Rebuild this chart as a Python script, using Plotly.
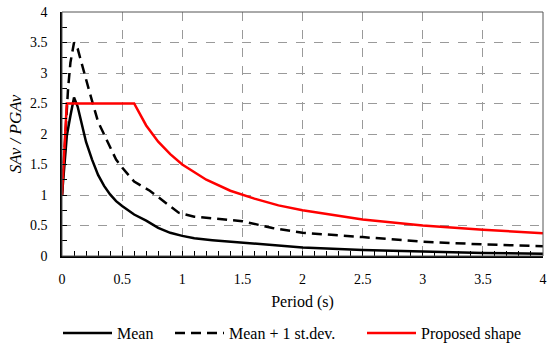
import plotly.graph_objects as go

# ---- data ----
period_mean = [0, 0.02, 0.04, 0.07, 0.1, 0.13, 0.16, 0.2, 0.25, 0.3, 0.35, 0.4, 0.45, 0.5, 0.6,
               0.7, 0.8, 0.9, 1.0, 1.1, 1.25, 1.5, 2.0, 2.5, 3.0, 3.5, 4.0]
mean_vals = [1.0, 1.5, 1.97, 2.3, 2.6, 2.45, 2.22, 1.87, 1.58, 1.33, 1.15, 1.01, 0.9, 0.82, 0.68,
             0.58, 0.46, 0.38, 0.33, 0.29, 0.26, 0.22, 0.14, 0.1, 0.07, 0.05, 0.035]

period_sd = [0, 0.02, 0.04, 0.05, 0.07, 0.1, 0.13, 0.16, 0.2, 0.23, 0.3, 0.37, 0.45, 0.5,
             0.6, 0.73, 0.84, 0.97, 1.1, 1.25, 1.5, 1.75, 2.0, 2.5, 3.0, 3.5, 4.0]
sd_vals = [1.0, 1.7, 2.35, 2.73, 3.17, 3.5, 3.4, 3.17, 2.9, 2.68, 2.2, 1.91, 1.58, 1.45,
           1.22, 1.07, 0.9, 0.71, 0.645, 0.615, 0.57, 0.46, 0.38, 0.31, 0.235, 0.19, 0.16]

period_prop = [0, 0.04, 0.6, 0.7, 0.8, 0.9, 1.0, 1.2, 1.4, 1.6, 1.8, 2.0, 2.5, 3.0, 3.5, 4.0]
prop_vals = [1.0, 2.5, 2.5, 2.14, 1.875, 1.67, 1.5, 1.25, 1.07, 0.94, 0.83, 0.75, 0.6, 0.5, 0.43, 0.375]

series_names = ["Mean", "Mean + 1 st.dev.", "Proposed shape"]
x_ticks = [0, 0.5, 1, 1.5, 2, 2.5, 3, 3.5, 4]
x_tick_labels = ["0", "0.5", "1", "1.5", "2", "2.5", "3", "3.5", "4"]
y_ticks = [0, 0.5, 1, 1.5, 2, 2.5, 3, 3.5, 4]
y_tick_labels = ["0", "0.5", "1", "1.5", "2", "2.5", "3", "3.5", "4"]

FONT = "'Liberation Serif', 'Times New Roman', Times, serif"

fig = go.Figure()
fig.add_trace(go.Scatter(x=period_mean, y=mean_vals, mode="lines", name=series_names[0],
                         line=dict(color="black", width=2.5), legend="legend"))
fig.add_trace(go.Scatter(x=period_sd, y=sd_vals, mode="lines", name=series_names[1],
                         line=dict(color="black", width=2.5, dash="10px,6px"), legend="legend2"))
fig.add_trace(go.Scatter(x=period_prop, y=prop_vals, mode="lines", name=series_names[2],
                         line=dict(color="#ff0000", width=2.5), legend="legend3"))

W_PLOT = 481.0
H_PLOT = 244.0
def lx(px):
    return (px - 62) / W_PLOT
ly = (256 - 333) / H_PLOT

leg_common = dict(orientation="h", yanchor="middle", y=ly, xanchor="left",
                  font=dict(family=FONT, size=16, color="black"),
                  bgcolor="rgba(0,0,0,0)", itemwidth=49, tracegroupgap=0)

fig.update_layout(
    width=550, height=346,
    margin=dict(l=62, r=7, t=12, b=90, autoexpand=False),
    paper_bgcolor="white", plot_bgcolor="white",
    font=dict(family=FONT, size=14, color="black"),
    showlegend=True,
    legend=dict(x=lx(58), **leg_common),
    legend2=dict(x=lx(170), **leg_common),
    legend3=dict(x=lx(362), **leg_common),
    xaxis=dict(range=[0, 4], tickvals=x_ticks, ticktext=x_tick_labels,
               showline=True, linecolor="black", linewidth=1.5, automargin=False,
               showgrid=True, gridcolor="#9a9a9a", griddash="dash", gridwidth=1,
               ticks="inside", ticklen=5, tickcolor="black", ticklabeloverflow="allow",
               minor=dict(dtick=0.1, ticks="inside", ticklen=5, tickcolor="black", showgrid=False),
               tickfont=dict(family=FONT, size=14, color="black"),
               ticklabelstandoff=9, zeroline=False,
               title=dict(text="Period (s)", font=dict(family=FONT, size=16, color="black"),
                          standoff=10)),
    yaxis=dict(range=[0, 4], tickvals=y_ticks, ticktext=y_tick_labels,
               showline=True, linecolor="black", linewidth=1.5, automargin=False,
               showgrid=True, gridcolor="#9a9a9a", griddash="dash", gridwidth=1,
               ticks="inside", ticklen=5, tickcolor="black", ticklabeloverflow="allow",
               minor=dict(dtick=0.25, ticks="inside", ticklen=5, tickcolor="black", showgrid=False),
               tickfont=dict(family=FONT, size=14, color="black"),
               ticklabelstandoff=10, zeroline=False,
               title=dict(text="<i>SAv / PGAv</i>", font=dict(family=FONT, size=17, color="black"),
                          standoff=4)),
    shapes=[dict(type="rect", xref="paper", yref="paper", x0=0, x1=1, y0=0, y1=1,
                 line=dict(color="#555555", width=1), layer="above")],
)

fig.write_html("out.html", config={"displayModeBar": False},
               post_script="document.body.style.margin='0';")
